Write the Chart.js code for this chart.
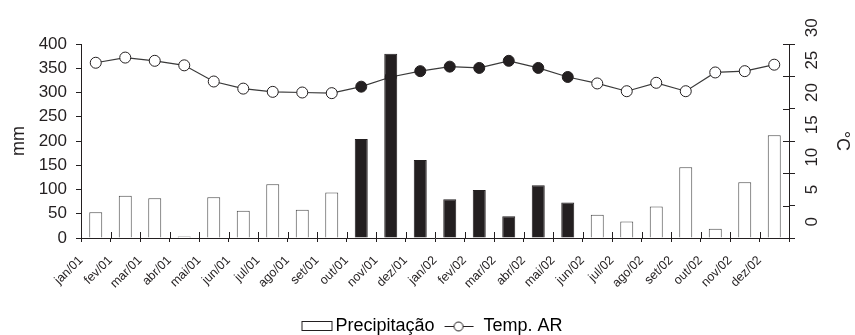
<!DOCTYPE html>
<html lang="pt">
<head>
<meta charset="utf-8">
<title>Precipitação e Temp. AR</title>
<script src="https://cdn.jsdelivr.net/npm/chart.js@4.4.1/dist/chart.umd.min.js"></script>
<style>
  html,body{margin:0;padding:0;background:#fff;}
  #wrap{width:855px;height:335px;position:relative;}
</style>
</head>
<body>
<div id="wrap"><canvas id="chart"></canvas></div>
<script>
// dados
const months = ['jan/01','fev/01','mar/01','abr/01','mai/01','jun/01','jul/01','ago/01','set/01','out/01','nov/01','dez/01',
                'jan/02','fev/02','mar/02','abr/02','mai/02','jun/02','jul/02','ago/02','set/02','out/02','nov/02','dez/02'];
const rainMm = [53,87,82,3,84,56,111,58,94,204,380,161,80,99,45,109,73,48,34,65,146,19,115,212];
const airTemp = [24.6,25.4,24.9,24.2,21.7,20.6,20.1,20.0,19.9,20.9,22.4,23.3,24.0,23.8,24.9,23.8,22.4,21.4,20.2,21.5,20.2,23.1,23.3,24.3];
// meses destacados (barras e pontos pretos)
const darkMonths = ['out/01','nov/01','dez/01','jan/02','fev/02','mar/02','abr/02','mai/02'];
const mmTicks = [0,50,100,150,200,250,300,350,400];
const tempTicks = [0,5,10,15,20,25,30];

const INK = '#231f20';
Chart.defaults.font.family = '"Liberation Sans", Arial, sans-serif';
Chart.defaults.color = INK;

const isDark = months.map(m => darkMonths.includes(m));

// legend icons
function boxIcon(){
  const c = document.createElement('canvas'); c.width = 48; c.height = 12;
  const g = c.getContext('2d');
  g.fillStyle = '#fff'; g.strokeStyle = INK; g.lineWidth = 1;
  g.fillRect(16.5,1.5,30,9); g.strokeRect(16.5,1.5,30,9);
  return c;
}
function lineIcon(){
  const c = document.createElement('canvas'); c.width = 34; c.height = 12;
  const g = c.getContext('2d');
  g.strokeStyle = INK; g.lineWidth = 1;
  g.beginPath(); g.moveTo(4,6.5); g.lineTo(33,6.5); g.stroke();
  g.fillStyle = '#fff';
  g.beginPath(); g.arc(18,6.5,4.5,0,Math.PI*2); g.fill(); g.stroke();
  return c;
}

// ticks que cruzam o eixo (parte interna)
const innerTicks = {
  id: 'innerTicks',
  afterDraw(chart){
    const {ctx, chartArea} = chart;
    const x = chart.scales.x, yT = chart.scales.yT;
    ctx.save();
    ctx.strokeStyle = INK; ctx.lineWidth = 1;
    ctx.beginPath();
    for(let i = 0; i <= months.length; i++){
      const px = Math.round(x.getPixelForValue(i - 0.5)) + 0.5;
      ctx.moveTo(px, chartArea.bottom); ctx.lineTo(px, chartArea.bottom - 6);
    }
    yT.ticks.forEach(t => {
      const py = Math.round(yT.getPixelForValue(t.value)) + 0.5;
      ctx.moveTo(chartArea.right, py); ctx.lineTo(chartArea.right - 6, py);
    });
    ctx.stroke();
    ctx.restore();
  }
};

new Chart(document.getElementById('chart'), {
  data: {
    labels: months,
    datasets: [
      {
        type: 'bar', label: 'Precipitação', data: rainMm, yAxisID: 'y', order: 1,
        backgroundColor: isDark.map(d => d ? INK : '#fff'),
        borderColor: isDark.map(d => d ? INK : '#4a4a4a'),
        borderWidth: 1, categoryPercentage: 1, barPercentage: 0.44
      },
      {
        type: 'line', label: 'Temp. AR', data: airTemp, yAxisID: 'yT', order: 2,
        borderColor: '#3a3a3a', borderWidth: 1.2, tension: 0,
        pointRadius: 5.5, pointBorderWidth: 1, pointBorderColor: INK,
        pointBackgroundColor: isDark.map(d => d ? INK : '#fff')
      }
    ]
  },
  options: {
    responsive: true, maintainAspectRatio: false, animation: false,
    layout: {padding: {top: 44, left: 0, right: 0, bottom: -10}},
    plugins: {
      tooltip: {enabled: false},
      legend: {
        position: 'bottom',
        labels: {
          usePointStyle: true, pointStyleWidth: 34, padding: 6,
          font: {size: 18}, color: INK,
          generateLabels: () => [
            {text: 'Precipitação', pointStyle: boxIcon(), fillStyle: '#fff', strokeStyle: INK, lineWidth: 0, datasetIndex: 0},
            {text: 'Temp. AR', pointStyle: lineIcon(), fillStyle: '#fff', strokeStyle: INK, lineWidth: 0, datasetIndex: 1}
          ]
        }
      }
    },
    scales: {
      x: {
        afterFit: s => { s.height = 73; },
        grid: {drawOnChartArea: false, offset: true, tickLength: 4, color: INK},
        border: {color: INK, width: 1},
        ticks: {autoSkip: false, minRotation: 45, maxRotation: 45, labelOffset: -14.75, padding: 11, font: {size: 12.5}}
      },
      y: {
        position: 'left', min: 0, max: 400,
        afterFit: s => { s.width = 81; },
        afterBuildTicks: s => { s.ticks = mmTicks.map(v => ({value: v})); },
        grid: {drawOnChartArea: false, tickLength: 5, color: INK},
        border: {color: INK, width: 1},
        ticks: {padding: 9, font: {size: 17}},
        title: {display: true, text: 'mm', font: {size: 18}, padding: {top: 8, bottom: 0}}
      },
      yT: {
        position: 'right', min: -2.5, max: 27.5,
        afterFit: s => { s.width = 66; },
        afterBuildTicks: s => { s.ticks = tempTicks.map(v => ({value: v - 2.5})); },
        grid: {drawOnChartArea: false, tickLength: 6, color: INK},
        border: {color: INK, width: 1},
        ticks: {
          padding: 8, font: {size: 17}, crossAlign: 'center',
          minRotation: 90, maxRotation: 90, labelOffset: -16.2,
          callback: (v, i) => String(tempTicks[i])
        },
        title: {display: true, text: '°C', font: {size: 18}, padding: {top: 2, bottom: 0}}
      }
    }
  },
  plugins: [innerTicks]
});
</script>
</body>
</html>
